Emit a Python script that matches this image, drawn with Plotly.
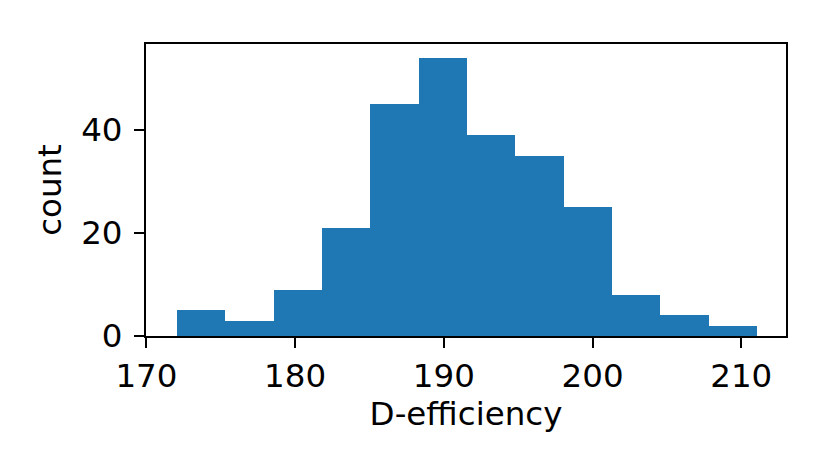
import plotly.graph_objects as go

# histogram of D-efficiency values
bin_start = 172.06
bin_width = 3.25
counts = [5, 3, 9, 21, 45, 54, 39, 35, 25, 8, 4, 2]
x_ticks = [170, 180, 190, 200, 210]
y_ticks = [0, 20, 40]

centers = [bin_start + bin_width * (i + 0.5) for i in range(len(counts))]
x_lo = bin_start
x_hi = bin_start + bin_width * len(counts)

FONT = "DejaVu Sans"
FS = 32.5

fig = go.Figure()
fig.add_trace(go.Bar(
    x=centers,
    y=counts,
    width=bin_width,
    marker=dict(color="#1f77b4", line=dict(width=0)),
    showlegend=False,
))

axis_style = dict(
    showline=True, linecolor="black", linewidth=2, mirror=True,
    ticks="outside", ticklen=10, tickwidth=2, tickcolor="black",
    showgrid=False, zeroline=False, automargin=False,
    tickfont=dict(family=FONT, size=FS, color="black"),
)

fig.update_layout(
    width=830, height=475,
    margin=dict(l=146, r=44, t=44, b=139),
    paper_bgcolor="white", plot_bgcolor="white",
    bargap=0,
    font=dict(family=FONT, size=FS, color="black"),
    xaxis=dict(
        range=[169.97, x_hi + 0.05 * (x_hi - x_lo)], tickvals=x_ticks,
        title=dict(text="D-efficiency", standoff=8,
                   font=dict(family=FONT, size=FS)),
        ticklabelstandoff=0,
        **axis_style,
    ),
    yaxis=dict(
        range=[0, max(counts) * 1.05], tickvals=y_ticks,
        title=dict(text="count", standoff=10,
                   font=dict(family=FONT, size=FS)),
        ticklabelstandoff=5,
        **axis_style,
    ),
)

# the page body has a default 8px margin; drop it so the figure sits at 0,0
fig.write_html("out.html", config={"displayModeBar": False},
               post_script="document.body.style.margin='0';")
